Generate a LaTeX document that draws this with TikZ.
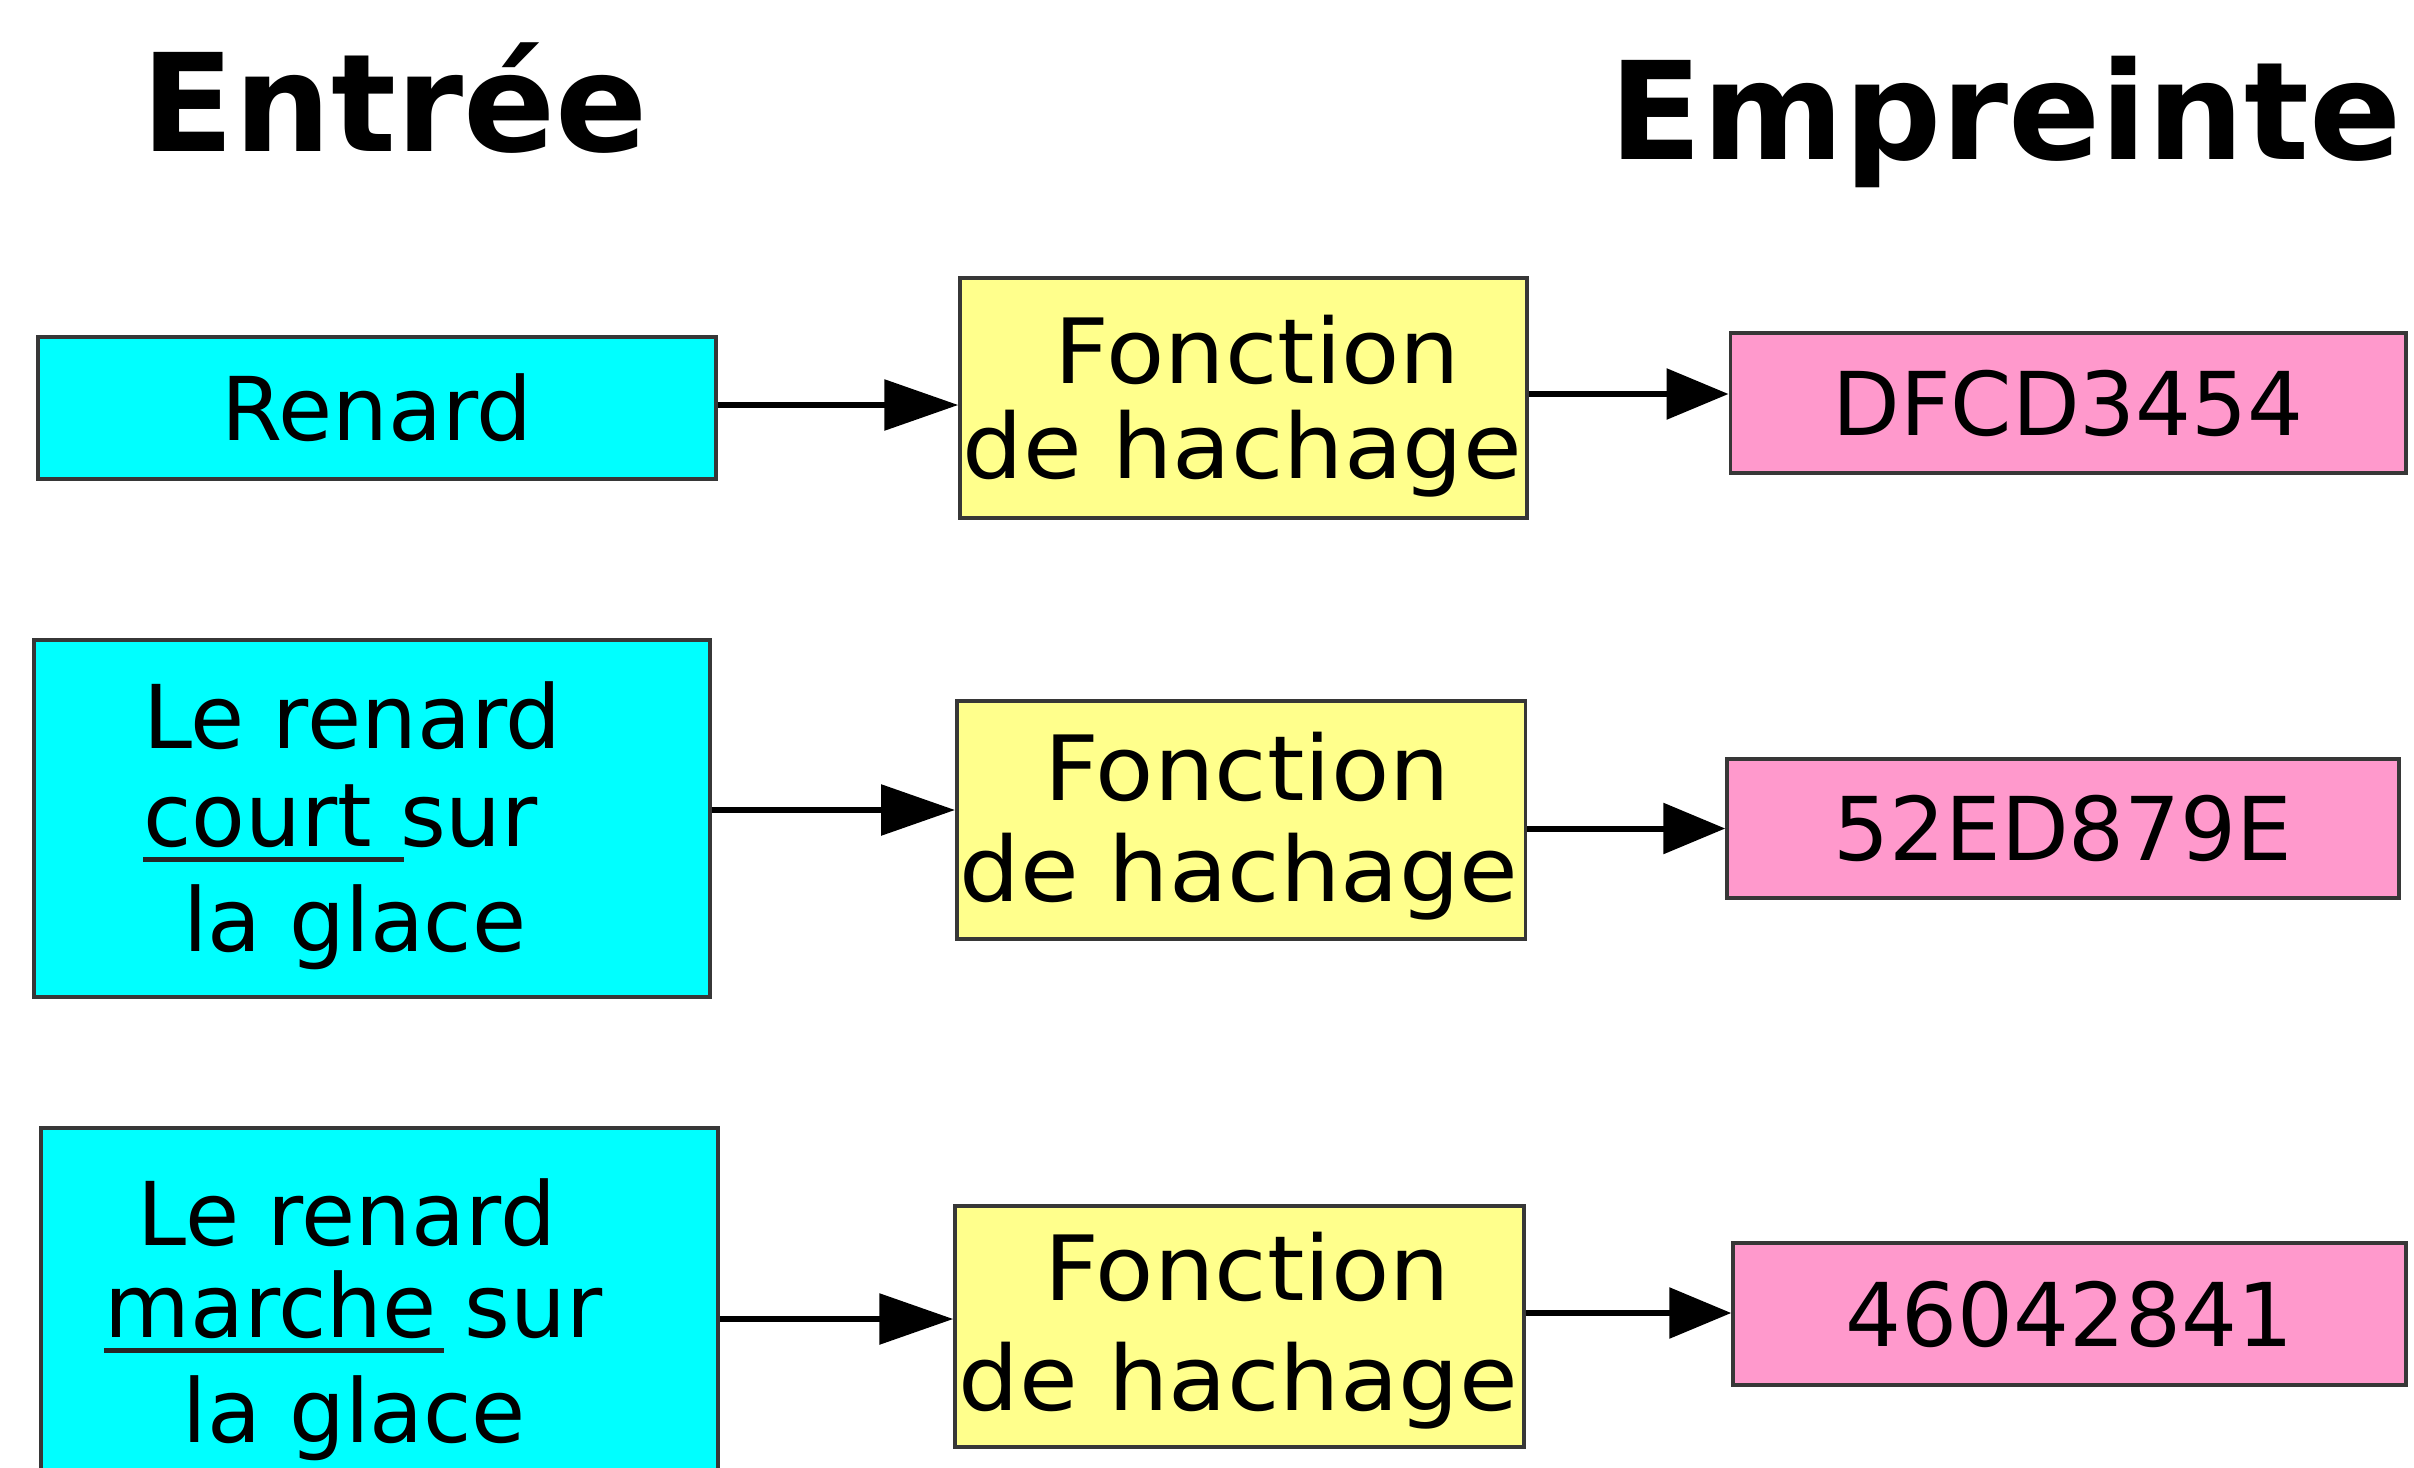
\documentclass[tikz,border=0pt]{standalone}
\usepackage{fontspec}
\setmainfont{DejaVu Sans}
\newfontfamily\fnfont[FakeStretch=1.06]{DejaVu Sans}
\usetikzlibrary{arrows.meta}

\definecolor{inputfill}{RGB}{0,255,255}
\definecolor{hashfnfill}{RGB}{255,255,140}
\definecolor{digestfill}{RGB}{255,153,204}
\definecolor{edgegray}{RGB}{55,55,55}

% underline a word, the rule running #2 beyond its end
\newcommand\ulword[2]{\setbox0=\hbox{#1}\rlap{\color{black!85}\rule[-8pt]{\dimexpr\wd0+#2\relax}{2.5pt}}\box0\relax}

\tikzset{
  boxbase/.style={draw=edgegray, line width=1.75pt, inner sep=0pt},
  inputbox/.style={boxbase, fill=inputfill},
  fnbox/.style={boxbase, fill=hashfnfill},
  digestbox/.style={boxbase, fill=digestfill, font=\fontsize{44}{50}\selectfont},
  inputtext/.style={anchor=north west, inner sep=0pt, align=left},
  fntext/.style={anchor=north, inner sep=0pt, align=center},
  heading/.style={anchor=base, inner sep=0pt, font=\fontsize{68}{72}\selectfont\bfseries},
  inflow/.style={line width=3pt, -{Triangle[length=37pt, width=25pt]}},
  outflow/.style={line width=3pt, -{Triangle[length=31pt, width=25pt]}},
}

\begin{document}
\begin{tikzpicture}[x=0.5pt, y=-0.5pt]
\useasboundingbox (0,0) rectangle (2414,1467);
\clip (0,0) rectangle (2414,1467);
\fill[white] (0,0) rectangle (2414,1467);

% column headings
\node[heading] (tin)  at (395,151)    {Entrée};
\node[heading] (tout) at (2005.5,159) {Empreinte};

% first row
\node[inputbox, minimum width=339pt, minimum height=71pt,
      font=\fontsize{44}{50}\selectfont] (in1) at (377,408) {Renard};
\node[fnbox, minimum width=283.5pt, minimum height=120pt] (f1) at (1243.5,398) {};
\node[fntext, font=\fnfont\fontsize{45}{47.5}\selectfont] (f1text) at (1242.5,314.6)
  {\hspace*{15pt}Fonction\\de hachage};
\node[digestbox, minimum width=337.75pt, minimum height=70pt] (h1) at (2068,403) {DFCD3454};

% second row
\node[inputbox, minimum width=338pt, minimum height=178.5pt] (in2) at (372,818.5) {};
\node[inputtext, font=\fontsize{44}{49}\selectfont] (in2text) at (143,681.1)
  {Le renard\\\ulword{court}{16pt} sur\\[3.5pt]\hspace*{20pt}la glace};
\node[fnbox, minimum width=284.25pt, minimum height=119pt] (f2) at (1241,820) {};
\node[fntext, font=\fnfont\fontsize{45}{50.5}\selectfont] (f2text) at (1239,731.6)
  {\hspace*{8pt}Fonction\\de hachage};
\node[digestbox, minimum width=336pt, minimum height=69.5pt] (h2) at (2063,828.5) {52ED879E};

% third row
\node[inputbox, minimum width=338.5pt, minimum height=180pt] (in3) at (379.5,1308) {};
\node[inputtext, font=\fontsize{44}{46}\selectfont] (in3text) at (104,1178.1)
  {\hspace*{16.7pt}Le renard\\\ulword{marche}{3.5pt} sur\\[6.5pt]\hspace*{39.25pt}la glace};
\node[fnbox, minimum width=284.5pt, minimum height=120.5pt] (f3) at (1239.5,1326.5) {};
\node[fntext, font=\fnfont\fontsize{45}{55}\selectfont] (f3text) at (1238.5,1231.6)
  {\hspace*{8.5pt}Fonction\\de hachage};
\node[digestbox, minimum width=336.5pt, minimum height=71pt] (h3) at (2069.5,1314) {46042841};

% connectors
\draw[inflow]  ([yshift=1.5pt]in1.east) -- ([yshift=1.5pt]in1.east -| f1.west);
\draw[outflow] ([yshift=2pt]f1.east) -- ([yshift=2pt]f1.east -| h1.west);
\draw[inflow]  ([yshift=4.25pt]in2.east) -- ([yshift=4.25pt]in2.east -| f2.west);
\draw[outflow] (h2.west -| f2.east) -- (h2.west);
\draw[inflow]  ([yshift=3.75pt]f3.west -| in3.east) -- ([yshift=3.75pt]f3.west);
\draw[outflow] ([yshift=0.5pt]h3.west -| f3.east) -- ([yshift=0.5pt]h3.west);
\end{tikzpicture}
\end{document}
